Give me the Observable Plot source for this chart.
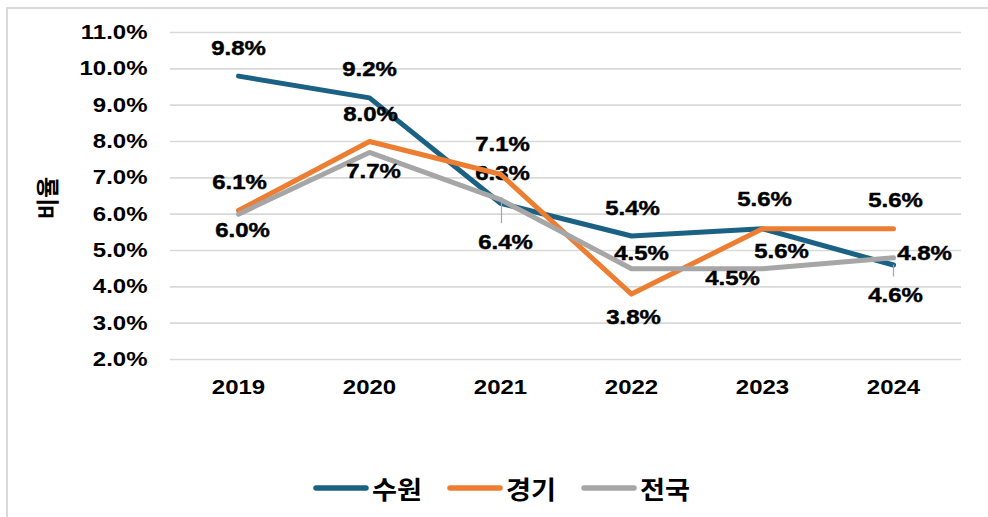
<!DOCTYPE html>
<html><head><meta charset="utf-8">
<script src="https://cdn.jsdelivr.net/npm/d3@7"></script>
<script src="https://cdn.jsdelivr.net/npm/@observablehq/plot@0.6"></script>
<style>
body{margin:0;background:#fff;width:988px;height:517px;overflow:hidden;position:relative;font-family:"Liberation Sans",Arial,sans-serif;}
#frame{position:absolute;left:6px;top:7px;width:1000px;height:600px;border-left:2px solid #d9d9d9;border-top:2px solid #d9d9d9;box-sizing:border-box;}
#chart{position:absolute;left:0;top:0;}
#legend{position:absolute;left:313px;top:470px;display:flex;align-items:center;font-family:"Noto Sans CJK KR",sans-serif;font-weight:bold;font-size:25px;color:#000;white-space:nowrap;}
#legend .item{display:flex;align-items:center;}
#legend svg{margin-right:3px;}
#legend span{display:inline-block;transform-origin:left center;}
</style></head><body>
<div id="frame"></div><div id="chart"></div><div id="legend"></div>
<script>
const years = ["2019","2020","2021","2022","2023","2024"];
const seriesNames = ["수원","경기","전국"];
const suwon = [9.8, 9.2, 6.3, 5.4, 5.6, 4.6];
const gyeonggi = [6.1, 8.0, 7.1, 3.8, 5.6, 5.6];
const national = [6.0, 7.7, 6.4, 4.5, 4.5, 4.8];
const yTicks = [2, 3, 4, 5, 6, 7, 8, 9, 10, 11];
const yTitle = "비율";

const colors = ["#1b6184", "#ed7d31", "#a6a6a6"];
// label placement (pixel offsets), kept apart from the data
const labelOffsets = {
  "수원": [[0,-28],[0,-28],[2,-30],[1,-28],[2,-29],[2,30]],
  "경기": [[1,-28],[1,-27],[2,-30],[2,23],[19,23],[2,-28]],
  "전국": [[4,16],[4,19],[5,43],[10,-15],[-30,10],[31,-4]]
};

const seriesValues = [suwon, gyeonggi, national];
const data = [];
seriesNames.forEach((s, si) => years.forEach((y, i) => data.push({series: s, year: y, value: seriesValues[si][i], idx: i})));

const fmt = v => v.toFixed(1) + "%";
const font = '"Liberation Sans", Arial, sans-serif';
const txt = {fontSize: 20.5, fontWeight: "bold", fill: "#000", stroke: "#000", strokeWidth: 0.45};

const marks = [
  Plot.gridY(yTicks, {stroke: "#d9d9d9", strokeOpacity: 1, strokeWidth: 1.6}),
  Plot.axisY(yTicks, {tickSize: 0, tickPadding: 23, tickFormat: fmt, ...txt, label: null}),
  Plot.axisX({tickSize: 0, tickPadding: 20, ...txt, label: null}),
  Plot.text([yTitle], {frameAnchor: "left", textAnchor: "middle", dx: -122, dy: 2, rotate: -90, fontSize: 23, fontWeight: "bold", fontFamily: '"Noto Sans CJK KR", sans-serif', fill: "#000"})
];

seriesNames.forEach((s, si) => {
  const sd = data.filter(d => d.series === s);
  marks.push(Plot.line(sd, {x: "year", y: "value", stroke: colors[si], strokeWidth: 5, strokeLinecap: "round", strokeLinejoin: "round"}));
  if (s === "전국") {
    marks.push(Plot.ruleX(sd.filter(d => d.year === "2021"), {x: "year", y1: "value", y2: "value", insetTop: -2, insetBottom: -24, dx: 1, stroke: "#a6a6a6", strokeWidth: 1.2}));
  }
  if (s === "수원") {
    marks.push(Plot.ruleX(sd.filter(d => d.year === "2024"), {x: "year", y1: "value", y2: "value", insetTop: 0, insetBottom: -12, stroke: "#a6a6a6", strokeWidth: 1.2}));
  }
  sd.forEach(d => {
    const [dx, dy] = labelOffsets[s][d.idx];
    marks.push(Plot.text([d], {x: "year", y: "value", text: dd => fmt(dd.value), dx, dy, ...txt}));
  });
});

const chart = Plot.plot({
  width: 988,
  height: 460,
  marginLeft: 170,
  marginRight: 27,
  marginTop: 32,
  marginBottom: 101,
  style: {fontFamily: font, background: "transparent", overflow: "visible"},
  x: {domain: years, padding: 0.5, type: "point"},
  y: {domain: [2, 11]},
  marks
});
document.getElementById("chart").appendChild(chart);

// horizontal stretch of Latin text to match the reference's wide lettering
chart.querySelectorAll("text").forEach(t => {
  if (/[\uAC00-\uD7A3]/.test(t.textContent)) return;
  const tr = t.getAttribute("transform");
  if (tr) t.setAttribute("transform", tr + " scale(1.17,1)");
  else if (t.getAttribute("x")) t.setAttribute("x", +t.getAttribute("x") / 1.17);
});

const legend = document.getElementById("legend");
seriesNames.forEach((s, si) => {
  const item = document.createElement("div");
  item.className = "item";
  item.innerHTML = `<svg width="56" height="10"><line x1="3" y1="5" x2="53" y2="5" stroke="${colors[si]}" stroke-width="5.5" stroke-linecap="round"/></svg><span>${s}</span>`;
  legend.appendChild(item);
  const span = item.querySelector("span");
  const w = span.getBoundingClientRect().width;
  const k = 50 / w;
  span.style.transform = `scaleX(${k})`;
  item.style.marginRight = (25 + w * (k - 1)) + "px";
});
</script>
</body></html>
